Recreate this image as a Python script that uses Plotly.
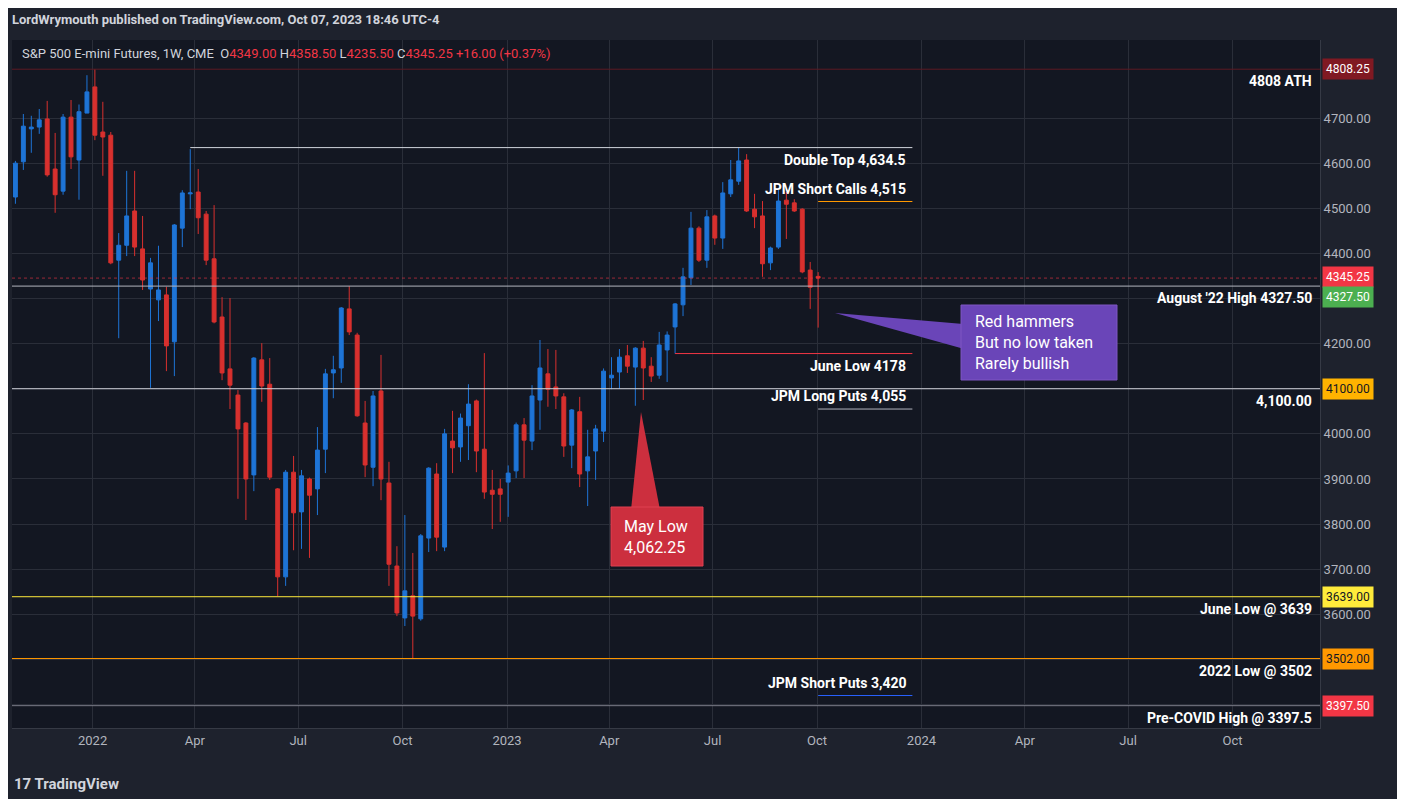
import pandas as pd
import plotly.graph_objects as go

# weekly ES candles, Oct 2021 -> Oct 2023
opens = [4525, 4603, 4676, 4680, 4698, 4587, 4538, 4702, 4607, 4711,
         4769, 4669, 4662, 4385, 4418, 4494, 4410, 4321, 4297, 4308,
         4204, 4456, 4532, 4536, 4487, 4388, 4259, 4144, 4086, 4024,
         3909, 4164, 4110, 3878, 3683, 3915, 3827, 3900, 3878, 3966,
         4135, 4146, 4277, 4219, 4024, 3926, 4095, 3891, 3707, 3592,
         3641, 3590, 3769, 3911, 3749, 3984, 3971, 4018, 4073, 3966,
         3875, 3878, 3893, 3918, 4020, 3984, 4075, 4133, 4104, 4082,
         3975, 4049, 3918, 3962, 4006, 4124, 4137, 4173, 4148, 4190,
         4150, 4130, 4186, 4237, 4286, 4346, 4456, 4385, 4483, 4434,
         4532, 4560, 4607, 4498, 4483, 4379, 4414, 4518, 4512, 4498,
         4363, 4349]
highs = [4605, 4709, 4705, 4720, 4738, 4667, 4709, 4740, 4730, 4795,
         4808.25, 4736, 4669, 4445, 4583, 4583, 4483, 4390, 4417, 4326,
         4465, 4540, 4631, 4587, 4494, 4507, 4303, 4301, 4097, 4026,
         4170, 4201, 4168, 3880, 3920, 3951, 3920, 3903, 4015, 4144,
         4173, 4281, 4327.5, 4224, 4073, 4095, 4175, 3938, 3751, 3820,
         3736, 3778, 3926, 3935, 4011, 4051, 4045, 4110, 4076, 4179,
         3920, 3900, 3930, 4025, 4035, 4108, 4208, 4188, 4186, 4090,
         4055, 4082, 4009, 4020, 4145, 4170, 4188, 4197, 4192, 4206,
         4170, 4226, 4227, 4290, 4368, 4492, 4460, 4496, 4486, 4558,
         4607, 4634.5, 4620, 4532, 4516, 4415, 4541, 4536, 4520, 4500,
         4381, 4358.5]
lows = [4510, 4585, 4623, 4665, 4570, 4490, 4530, 4587, 4519, 4711,
        4651, 4572, 4376, 4212, 4394, 4394, 4319, 4102, 4250, 4139,
        4128, 4414, 4498, 4443, 4374, 4245, 4119, 4055, 3856, 3809,
        3873, 4071, 3898, 3640, 3663, 3742, 3745, 3725, 3820, 3913,
        4079, 4113, 4219, 4038, 3904, 3884, 3853, 3663, 3596, 3574,
        3502, 3586, 3738, 3740, 3740, 3913, 3938, 3942, 3915, 3856,
        3789, 3805, 3816, 3902, 3902, 3964, 4009, 4060, 4055, 3949,
        3924, 3882, 3840, 3898, 3982, 4099, 4100, 4135, 4062.25, 4075,
        4115, 4122, 4115, 4178, 4261, 4330, 4381, 4368, 4419, 4410,
        4525, 4552, 4492, 4456, 4348, 4363, 4410, 4432, 4492, 4356,
        4277, 4235.5]
closes = [4600, 4682, 4680, 4696, 4574, 4530, 4702, 4614, 4714, 4758,
          4662, 4658, 4379, 4418, 4483, 4414, 4341, 4379, 4319, 4195,
          4463, 4534, 4534, 4479, 4385, 4248, 4135, 4108, 4011, 3900,
          4168, 4106, 3904, 3683, 3915, 3825, 3907, 3864, 3964, 4133,
          4142, 4279, 4226, 4040, 3931, 4084, 3900, 3711, 3603, 3652,
          3596, 3774, 3924, 3771, 4000, 3969, 4035, 4066, 3962, 3871,
          3866, 3866, 3913, 4020, 3986, 4084, 4146, 4099, 4084, 3973,
          4053, 3911, 3949, 4011, 4139, 4130, 4170, 4150, 4190, 4146,
          4128, 4197, 4219, 4288, 4348, 4456, 4385, 4481, 4434, 4534,
          4563, 4605, 4494, 4481, 4377, 4412, 4516, 4509, 4494, 4359,
          4325, 4345.25]
weeks = pd.date_range("2021-10-25", periods=len(opens), freq="W-MON")

tick_dates = ["2022-01-01", "2022-04-01", "2022-07-01", "2022-10-01", "2023-01-01",
              "2023-04-01", "2023-07-01", "2023-10-01", "2024-01-01", "2024-04-01",
              "2024-07-01", "2024-10-01"]
tick_text = ["2022", "Apr", "Jul", "Oct", "2023", "Apr", "Jul", "Oct", "2024", "Apr", "Jul", "Oct"]
price_ticks = [3400, 3500, 3600, 3700, 3800, 3900, 4000, 4100, 4200, 4300, 4400, 4500, 4600, 4700]

# key levels: (price, line colour, tag colour, tag text colour, tag shift)
levels = [
    (4808.25, "#5d1a22", "#801922", "white", 0),
    (4345.25, None, "#f23645", "white", 1),
    (4327.50, "#b2b5be", "#4caf50", "white", -11),
    (4100.00, "#d1d4dc", "#ffb300", "#131722", 0),
    (3639.00, "#ffeb3b", "#ffeb3b", "#131722", 0),
    (3502.00, "#ff9800", "#ff9800", "#131722", 0),
    (3397.50, "#787b86", "#f23645", "white", 0),
]
right_labels = [
    (4808.25, "4808 ATH"),
    (4327.50, "August '22 High 4327.50"),
    (4100.00, "4,100.00"),
    (3639.00, "June Low @ 3639"),
    (3502.00, "2022 Low @ 3502"),
    (3397.50, "Pre-COVID High @ 3397.5"),
]
# short segments: (start, price, colour, label)
segments = [
    ("2022-03-28", 4634.5, "#d1d4dc", "Double Top 4,634.5"),
    ("2023-10-02", 4515.0, "#ff9800", "JPM Short Calls 4,515"),
    ("2023-05-29", 4178.0, "#f23645", "June Low 4178"),
    ("2023-10-02", 4055.0, "#b2b5be", "JPM Long Puts 4,055"),
    ("2023-10-02", 3420.0, "#2962ff", "JPM Short Puts 3,420"),
]

BG = "#131722"
GRID = "#2a2e39"
FONT = "Roboto"

fig = go.Figure(go.Candlestick(
    x=weeks, open=opens, high=highs, low=lows, close=closes,
    increasing=dict(line=dict(color="#1e74d6", width=1), fillcolor="#1e74d6"),
    decreasing=dict(line=dict(color="#d8302e", width=1), fillcolor="#d8302e"),
    whiskerwidth=0, hoverinfo="skip", showlegend=False,
))

seg_end = "2023-12-24"
for price, col, tag, tcol, shift in levels:
    if col:
        fig.add_shape(type="line", xref="paper", x0=0, x1=1, yref="y", y0=price, y1=price,
                      line=dict(color=col, width=1))
    else:
        fig.add_shape(type="line", xref="paper", x0=0, x1=1, yref="y", y0=price, y1=price,
                      line=dict(color="#f23645", width=1, dash="dot"), opacity=0.6)
    fig.add_annotation(xref="paper", x=1.0015, yref="y", y=price, yshift=shift, text=f"{price:.2f}",
                       xanchor="left", showarrow=False, bgcolor=tag, borderpad=3,
                       font=dict(family=FONT, size=12, color=tcol))

for price, txt in right_labels:
    fig.add_annotation(xref="paper", x=0.9955, yref="y", y=price, yshift=-12, text=f"<b>{txt}</b>",
                       xanchor="right", showarrow=False, font=dict(family=FONT, size=14, color="white"))

for start, price, col, txt in segments:
    fig.add_shape(type="line", x0=start, x1=seg_end, y0=price, y1=price, line=dict(color=col, width=1))
    fig.add_annotation(x=seg_end, y=price, xshift=-4, yshift=13 if "JPM" in txt else -12,
                       text=f"<b>{txt}</b>", xanchor="right", showarrow=False,
                       font=dict(family=FONT, size=14, color="white"))

# callouts (pointer triangles in paper coords)
def px(x):
    return (x - 12) / 1308

def py(y):
    return (728 - y) / 688

fig.add_shape(type="path", xref="paper", yref="paper",
              path=f"M {px(835)},{py(313)} L {px(975)},{py(325)} L {px(975)},{py(352)} Z",
              fillcolor="#6a45b8", line=dict(width=0))
fig.add_shape(type="rect", xref="paper", yref="paper", x0=px(961), x1=px(1117), y0=py(380), y1=py(305),
              fillcolor="#6a45b8", line=dict(color="#7e57c2", width=1))
fig.add_annotation(xref="paper", yref="paper", x=px(973), y=py(342), xanchor="left", yanchor="middle",
                   text="Red hammers<br>But no low taken<br>Rarely bullish", align="left",
                   showarrow=False, font=dict(family=FONT, size=16, color="white"))
fig.add_shape(type="path", xref="paper", yref="paper",
              path=f"M {px(641)},{py(412)} L {px(630)},{py(520)} L {px(662)},{py(520)} Z",
              fillcolor="#cc2f3e", line=dict(width=0))
fig.add_shape(type="rect", xref="paper", yref="paper", x0=px(611), x1=px(703), y0=py(566), y1=py(507),
              fillcolor="#cc2f3e", line=dict(color="#e04050", width=1))
fig.add_annotation(xref="paper", yref="paper", x=px(622), y=py(537), xanchor="left", yanchor="middle",
                   text="May Low<br>4,062.25", align="left",
                   showarrow=False, font=dict(family=FONT, size=16, color="white"))

# header texts
fig.add_annotation(xref="paper", yref="paper", x=px(10), y=py(19), xanchor="left", yanchor="middle",
                   text="<b>LordWrymouth published on TradingView.com, Oct 07, 2023 18:46 UTC-4</b>",
                   showarrow=False, font=dict(family=FONT, size=13, color="#d1d4dc"))
red = "#f23645"
fig.add_annotation(xref="paper", yref="paper", x=px(20), y=py(53), xanchor="left", yanchor="middle",
                   showarrow=False,
                   text=(f"S&P 500 E-mini Futures, 1W, CME  O<span style='color:{red}'>4349.00</span> "
                         f"H<span style='color:{red}'>4358.50</span> L<span style='color:{red}'>4235.50</span> "
                         f"C<span style='color:{red}'>4345.25</span> <span style='color:{red}'>+16.00 (+0.37%)</span>"),
                   font=dict(family=FONT, size=13, color="#d1d4dc"))
fig.add_annotation(xref="paper", yref="paper", x=px(12), y=py(784), xanchor="left", yanchor="middle",
                   showarrow=False, text="<b>17 TradingView</b>",
                   font=dict(family=FONT, size=15, color="#d1d4dc"))

# figure sized so it fits inside the window next to the page's 8px body margin
fig.update_layout(
    width=1389, height=791,
    margin=dict(l=4, r=77, t=32, b=71),
    paper_bgcolor="#1e222d", plot_bgcolor=BG,
    font=dict(family=FONT, color="#b2b5be", size=13),
    xaxis=dict(range=["2021-10-22", "2024-12-17"], tickvals=tick_dates, ticktext=tick_text,
               showgrid=True, gridcolor=GRID, rangeslider=dict(visible=False),
               showline=True, linecolor="#363a45", ticks="", tickfont=dict(size=13, color="#b2b5be"),
               zeroline=False, fixedrange=True),
    yaxis=dict(range=[3348, 4873], side="right", tickvals=price_ticks, tickformat=".2f",
               showgrid=True, gridcolor=GRID, showline=True, linecolor="#363a45", ticks="",
               tickfont=dict(size=13, color="#b2b5be"), zeroline=False, fixedrange=True),
    hovermode=False,
)

fig.write_html("out.html")
